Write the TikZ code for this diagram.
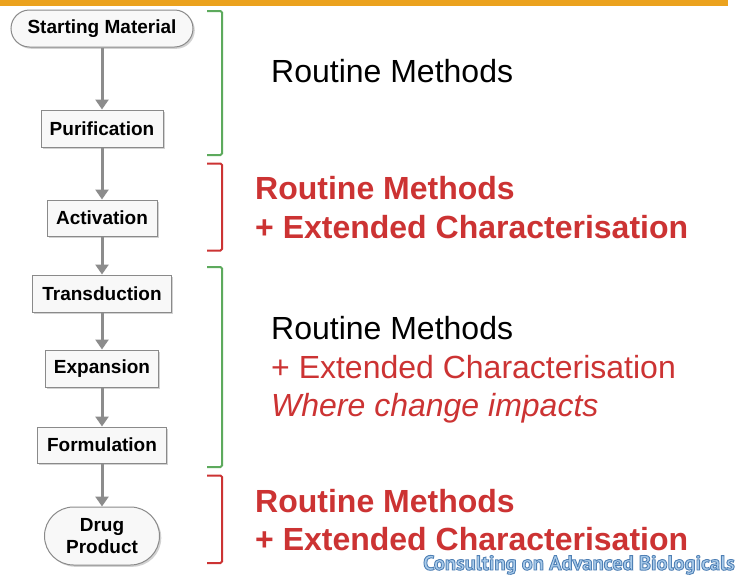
\documentclass[tikz,border=0pt]{standalone}
\usepackage{fontspec}
\setmainfont{Liberation Sans}
\newfontfamily\wmfont{PT Sans}
\usetikzlibrary{shapes.misc,shadows,arrows.meta}
\definecolor{boxgray}{HTML}{8A8A8A}
\definecolor{boxfill}{HTML}{F8F8F8}
\definecolor{arrgray}{HTML}{8C8C8C}
\definecolor{brgreen}{HTML}{5DAA5D}
\definecolor{brred}{HTML}{CC3333}
\definecolor{txred}{HTML}{CC3333}
\definecolor{topor}{HTML}{EBA21E}
\definecolor{wmfill}{HTML}{A9CBEA}
\newcommand{\outlinetext}[1]{\special{pdf:literal direct 0.31 0.5 0.71 RG 0.9 w 2 Tr}#1\special{pdf:literal direct 0 Tr}}
\tikzset{
  stepbox/.style={draw=boxgray, line width=1pt, fill=boxfill, inner sep=0pt,
    font=\fontsize{19}{21}\selectfont\bfseries,
    drop shadow={shadow xshift=1.8pt, shadow yshift=-1.8pt, opacity=0.35}},
  pillbox/.style={stepbox, rounded rectangle},
  flowarrow/.style={draw=arrgray, line width=3pt, -{Triangle[width=13pt,length=10pt]}},
  bracket/.style={line width=2pt, rounded corners=1.5pt},
  bigtext/.style={anchor=base west, inner sep=0pt, font=\fontsize{32}{39}\selectfont},
  wm/.style={anchor=base east, inner sep=0pt, font=\wmfont\fontsize{20.5}{22}\selectfont\bfseries}
}
\begin{document}
\begin{tikzpicture}[x=1pt,y=-1pt]
\useasboundingbox (0,0) rectangle (736,576);
\fill[white] (0,0) rectangle (736,576);
% top orange line
\fill[topor] (0,0) rectangle (728,5.5);

% nodes
\node[pillbox, minimum width=182pt, minimum height=37pt] (sm) at (102,28.5) {Starting Material};
\node[stepbox, minimum width=122pt, minimum height=37pt] (pu) at (102,128.5) {Purification};
\node[stepbox, minimum width=110pt, minimum height=36pt] (ac) at (102,218) {Activation};
\node[stepbox, minimum width=139pt, minimum height=37pt] (tr) at (102,293.5) {Transduction};
\node[stepbox, minimum width=113pt, minimum height=37pt] (ex) at (102,368.5) {Expansion};
\node[stepbox, minimum width=129pt, minimum height=36pt] (fo) at (102,445) {Formulation};
\node[pillbox, minimum width=115pt, minimum height=58pt, align=center,
      font=\fontsize{19}{21.5}\selectfont\bfseries] (dp) at (102,536) {Drug\\Product};

% arrows
\draw[flowarrow] (sm.south) -- (pu.north);
\draw[flowarrow] (pu.south) -- (ac.north);
\draw[flowarrow] (ac.south) -- (tr.north);
\draw[flowarrow] (tr.south) -- (ex.north);
\draw[flowarrow] (ex.south) -- (fo.north);
\draw[flowarrow] (fo.south) -- (dp.north);

% brackets
\draw[bracket, brgreen] (207,11) -- (222,11) -- (222,155) -- (207,155);
\draw[bracket, brred] (207,163.5) -- (222,163.5) -- (222,250.5) -- (207,250.5);
\draw[bracket, brgreen] (207,267) -- (222,267) -- (222,467) -- (207,467);
\draw[bracket, brred] (207,475.5) -- (222,475.5) -- (222,563) -- (207,563);

% texts group 1
\node[bigtext] (t1) at (271,82) {Routine Methods};
% group 2
\node[bigtext, text=txred, font=\fontsize{32}{39}\selectfont\bfseries] (t2a) at (255,199) {Routine Methods};
\node[bigtext, text=txred, font=\fontsize{32}{39}\selectfont\bfseries] (t2b) at (255,238) {+ Extended Characterisation};
% group 3
\node[bigtext] (t3a) at (271,339) {Routine Methods};
\node[bigtext, text=txred] (t3b) at (271,378) {+ Extended Characterisation};
\node[bigtext, text=txred, font=\fontsize{32}{39}\selectfont\itshape] (t3c) at (271,416) {Where change impacts};
% group 4
\node[bigtext, text=txred, font=\fontsize{32}{39}\selectfont\bfseries] (t4a) at (255,512) {Routine Methods};
\node[bigtext, text=txred, font=\fontsize{32}{39}\selectfont\bfseries] (t4b) at (255,550) {+ Extended Characterisation};

% watermark
\node[wm, text=wmfill] (wmk) at (735,570) {\outlinetext{Consulting on Advanced Biologicals}};
\end{tikzpicture}
\end{document}
